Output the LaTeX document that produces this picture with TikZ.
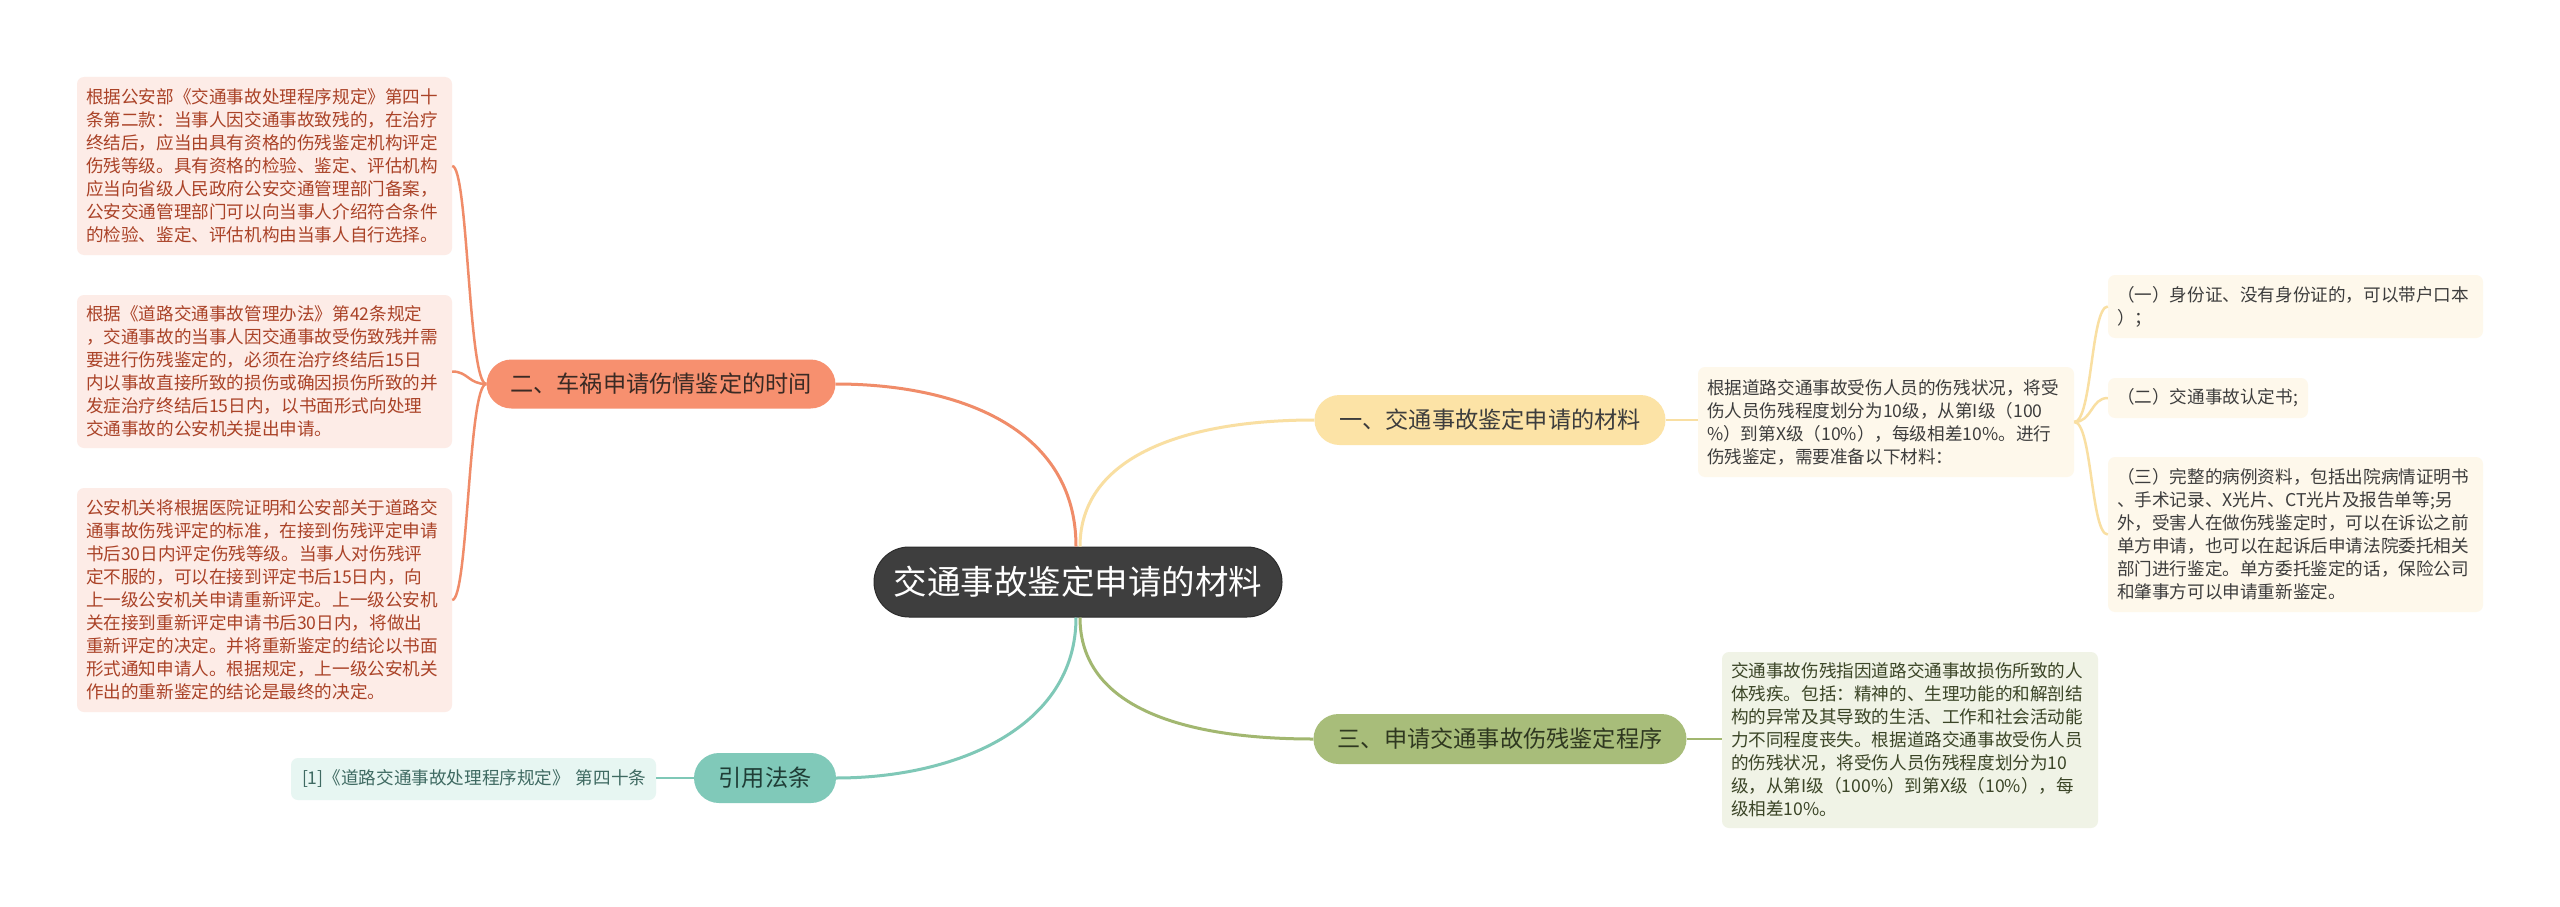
\documentclass[tikz,border=0pt]{standalone}
\usepackage{fontspec}
\setmainfont{Noto Sans CJK SC}
\usetikzlibrary{calc}
\definecolor{cdark}{HTML}{3E3E3E}
\definecolor{cdarkb}{HTML}{2C2C2C}
\definecolor{yfill}{HTML}{FCE3A6}
\definecolor{yline}{HTML}{F9DFA2}
\definecolor{yleaf}{HTML}{FEF8EB}
\definecolor{ytext}{HTML}{3D3D3D}
\definecolor{ofill}{HTML}{F7906F}
\definecolor{oline}{HTML}{F08C69}
\definecolor{oleaf}{HTML}{FDECE7}
\definecolor{otext}{HTML}{AA4227}
\definecolor{obtext}{HTML}{3A2A24}
\definecolor{gfill}{HTML}{A8BD7A}
\definecolor{gline}{HTML}{A2B770}
\definecolor{gleaf}{HTML}{F0F3E6}
\definecolor{gtext}{HTML}{3B4527}
\definecolor{gbtext}{HTML}{2F3820}
\definecolor{tfill}{HTML}{80C9B9}
\definecolor{tline}{HTML}{7FC8B7}
\definecolor{tleaf}{HTML}{E7F6F2}
\definecolor{ttext}{HTML}{3F6A62}
\definecolor{tbtext}{HTML}{1F3D36}
\tikzset{
  central/.style={fill=cdark, draw=cdarkb, line width=1pt, rounded corners=35pt,
    minimum width=408pt, minimum height=70pt, text=white, inner sep=0pt,
    font=\fontsize{33.5}{40}\selectfont},
  branch/.style={rounded corners=25pt, minimum height=50pt, inner sep=0pt,
    font=\fontsize{23.2}{28}\selectfont},
  leaf/.style={rounded corners=7pt, inner xsep=9pt, inner ysep=0pt, align=left,
    font=\fontsize{17.6}{23}\selectfont},
  mainline/.style={line width=3pt},
  subline/.style={line width=2.5pt},
}
\begin{document}
\begin{tikzpicture}[x=1pt,y=-1pt]
\fill[white] (0,0) rectangle (2560,907);
\useasboundingbox (0,0) rectangle (2560,907);

% central
\node[central] (c) at (1078,582) {交通事故鉴定申请的材料};

% branches
\node[branch, fill=yfill, text=ytext, minimum width=351pt] (b1) at (1490,420) {一、交通事故鉴定申请的材料};
\node[branch, fill=ofill, text=obtext, minimum width=349pt, minimum height=49pt] (b2) at (661,384) {二、车祸申请伤情鉴定的时间};
\node[branch, fill=gfill, text=gbtext, minimum width=373pt] (b3) at (1500,739) {三、申请交通事故伤残鉴定程序};
\node[branch, fill=tfill, text=tbtext, minimum width=142pt] (b4) at (765,778) {引用法条};

% branch 1 leaves
\node[leaf, fill=yleaf, text=ytext, text width=358pt, minimum height=110pt] (d1) at (1886,422) {根据道路交通事故受伤人员的伤残状况，将受\\伤人员伤残程度划分为10级，从第I级（100\\\%）到第X级（10\%），每级相差10\%。进行\\伤残鉴定，需要准备以下材料：};
\node[leaf, fill=yleaf, text=ytext, text width=357pt, minimum height=63pt] (s1) at (2295.5,306.5) {（一）身份证、没有身份证的，可以带户口本\\）；};
\node[leaf, fill=yleaf, text=ytext, text width=182pt, minimum height=40pt] (s2) at (2208,398) {（二）交通事故认定书;};
\node[leaf, fill=yleaf, text=ytext, text width=357pt, minimum height=155pt] (s3) at (2295.5,534.5) {（三）完整的病例资料，包括出院病情证明书\\、手术记录、X光片、CT光片及报告单等;另\\外，受害人在做伤残鉴定时，可以在诉讼之前\\单方申请，也可以在起诉后申请法院委托相关\\部门进行鉴定。单方委托鉴定的话，保险公司\\和肇事方可以申请重新鉴定。};

% branch 2 leaves
\node[leaf, fill=oleaf, text=otext, text width=357pt, minimum height=178pt] (l1) at (264.5,166) {根据公安部《交通事故处理程序规定》第四十\\条第二款：当事人因交通事故致残的，在治疗\\终结后，应当由具有资格的伤残鉴定机构评定\\伤残等级。具有资格的检验、鉴定、评估机构\\应当向省级人民政府公安交通管理部门备案，\\公安交通管理部门可以向当事人介绍符合条件\\的检验、鉴定、评估机构由当事人自行选择。};
\node[leaf, fill=oleaf, text=otext, text width=357pt, minimum height=153pt] (l2) at (264.5,371.5) {根据《道路交通事故管理办法》第42条规定\\，交通事故的当事人因交通事故受伤致残并需\\要进行伤残鉴定的，必须在治疗终结后15日\\内以事故直接所致的损伤或确因损伤所致的并\\发症治疗终结后15日内，以书面形式向处理\\交通事故的公安机关提出申请。};
\node[leaf, fill=oleaf, text=otext, text width=357pt, minimum height=224pt] (l3) at (264.5,600) {公安机关将根据医院证明和公安部关于道路交\\通事故伤残评定的标准，在接到伤残评定申请\\书后30日内评定伤残等级。当事人对伤残评\\定不服的，可以在接到评定书后15日内，向\\上一级公安机关申请重新评定。上一级公安机\\关在接到重新评定申请书后30日内，将做出\\重新评定的决定。并将重新鉴定的结论以书面\\形式通知申请人。根据规定，上一级公安机关\\作出的重新鉴定的结论是最终的决定。};

% branch 3 leaf
\node[leaf, fill=gleaf, text=gtext, text width=358pt, minimum height=176pt] (d3) at (1910,740) {交通事故伤残指因道路交通事故损伤所致的人\\体残疾。包括：精神的、生理功能的和解剖结\\构的异常及其导致的生活、工作和社会活动能\\力不同程度丧失。根据道路交通事故受伤人员\\的伤残状况，将受伤人员伤残程度划分为10\\级，从第I级（100\%）到第X级（10\%），每\\级相差10\%。};

% branch 4 leaf
\node[leaf, fill=tleaf, text=ttext, inner xsep=11pt, text width=343pt, minimum height=42pt] (cite) at (473.5,779) {\mbox{[1]《道路交通事故处理程序规定》 第四十条}};

% main connectors
\draw[mainline, draw=oline] ([xshift=-2pt]c.north) .. controls ($([xshift=-2pt]c.north)+(0,-120)$) and ($(b2.east)+(120,0)$) .. (b2.east);
\draw[mainline, draw=yline] ([xshift=2pt]c.north) .. controls ($([xshift=2pt]c.north)+(0,-90)$) and ($(b1.west)+(-130,0)$) .. (b1.west);
\draw[mainline, draw=gline] ([xshift=2pt]c.south) .. controls ($([xshift=2pt]c.south)+(0,90)$) and ($(b3.west)+(-130,0)$) .. (b3.west);
\draw[mainline, draw=tline] ([xshift=-2pt]c.south) .. controls ($([xshift=-2pt]c.south)+(0,110)$) and ($(b4.east)+(120,0)$) .. (b4.east);

% branch to leaves
\draw[subline, draw=yline] (b1.east) -- (b1.east -| d1.west);
\draw[subline, draw=gline] (b3.east) -- (b3.east -| d3.west);
\draw[subline, draw=tline] (b4.west) -- (b4.west -| cite.east);

\foreach \n in {l1,l2,l3}{
  \draw[subline, draw=oline] (b2.west) .. controls ($(b2.west)+(-18,0)$) and ($(\n.east)+(16,0)$) .. (\n.east);
}
\foreach \n in {s1,s2,s3}{
  \draw[subline, draw=yline] (d1.east) .. controls ($(d1.east)+(18,0)$) and ($(\n.west)+(-17,0)$) .. (\n.west);
}
\end{tikzpicture}
\end{document}
